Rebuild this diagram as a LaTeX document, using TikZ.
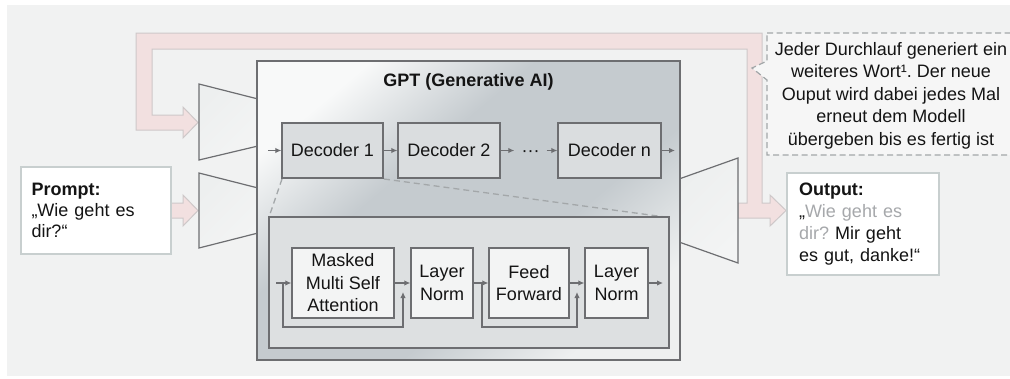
\documentclass[tikz,border=0pt]{standalone}
\usepackage{fontspec}
\setmainfont{Liberation Sans}
\usetikzlibrary{arrows.meta,calc}
\definecolor{bgc}{HTML}{F1F2F2}
\definecolor{pinkfill}{HTML}{F2E0E0}
\definecolor{pinkline}{HTML}{CEC8C9}
\definecolor{frame}{HTML}{6D6E71}
\definecolor{decfill}{HTML}{DADDDF}
\definecolor{innerfill}{HTML}{DDE0E1}
\definecolor{blockfill}{HTML}{F3F4F4}
\definecolor{boxline}{HTML}{C8CFCF}
\definecolor{txt}{HTML}{141414}
\definecolor{greytxt}{HTML}{A6A8AB}
\definecolor{dashc}{HTML}{A3A7A9}
\definecolor{calloutfill}{HTML}{F6F6F6}
\definecolor{shlight}{HTML}{F8F9F9}
\definecolor{shmid}{HTML}{C5CBCF}
\definecolor{shend}{HTML}{EEF0F0}
\definecolor{mtlight}{HTML}{EDEFEF}
\definecolor{mtmid}{HTML}{B9BFC3}
\definecolor{mtend}{HTML}{F3F4F4}
% brushed gradient of the model frame: light corner, grey band, light corner
\pgfdeclarehorizontalshading{gptshade}{100bp}{color(0bp)=(shlight);
  color(25bp)=(shlight); color(40bp)=(shmid); color(60bp)=(shmid);
  color(75bp)=(shend); color(100bp)=(shend)}
\frenchspacing
\begin{document}
\begin{tikzpicture}[x=1pt,y=-1pt,
  font=\fontsize{18}{22.5}\selectfont, text=txt,
  frameline/.style={draw=frame, line width=1.3pt},
  decbox/.style={frameline, fill=decfill, minimum height=55pt, inner sep=0pt},
  blockbox/.style={frameline, fill=blockfill, align=center, inner sep=0pt, minimum height=70pt},
  flow/.style={draw=frame, line width=1.2pt, -{Latex[length=6pt,width=5.5pt]}},
  pinkarrow/.style={fill=pinkfill, draw=pinkline, line width=1pt, line join=miter},
  metal/.style={draw=frame, line width=1.2pt, shading=axis, top color=mtlight,
    middle color=mtmid, bottom color=mtend, shading angle=45},
  textbox/.style={fill=white, draw=boxline, line width=1.3pt, align=left,
    inner ysep=0pt},
  zoomline/.style={draw=dashc, line width=1.3pt, dash pattern=on 6pt off 4pt}
]
\useasboundingbox (0,0) rectangle (1010,378);
\clip (0,0) rectangle (1010,378);
\fill[white] (0,0) rectangle (1010,378);
\fill[bgc] (7,5) rectangle (1012,376);

% feedback loop and output arrow (one outlined band)
\path[pinkarrow] (738,203) -- (747,203) -- (747,49) -- (152,49) -- (152,115)
  -- (183,115) -- (183,107) -- (198,122.5) -- (183,138) -- (183,130)
  -- (136,130) -- (136,33) -- (762,33) -- (762,203) -- (770,203)
  -- (770,195) -- (786,210.5) -- (770,226) -- (770,218) -- (738,218) -- cycle;
% prompt arrow
\path[pinkarrow] (171,203) -- (183,203) -- (183,195) -- (198,210.5)
  -- (183,226) -- (183,218) -- (171,218) -- cycle;

% callout with pointer
\path[fill=calloutfill, draw=dashc, line width=1.2pt, dash pattern=on 6pt off 3.5pt]
  (767,33) -- (1016,33) -- (1016,155) -- (767,155) -- (767,80) -- (752,68)
  -- (767,61) -- cycle;
\node[align=center, text=txt] (callout) at (891,95.5)
  {Jeder Durchlauf generiert ein\\weiteres Wort¹. Der neue\\Ouput wird dabei jedes Mal\\erneut dem Modell\\übergeben bis es fertig ist};

% funnels in and out of the model
\path[metal] (199,84) -- (258,99) -- (258,146) -- (199,160) -- cycle;
\path[metal] (199,173) -- (258,188) -- (258,233) -- (199,248) -- cycle;
\path[metal] (679,179) -- (738,158) -- (738,263) -- (679,242) -- cycle;

% GPT model frame
\node[frameline, shading=gptshade, shading angle=-50, minimum width=423pt,
  minimum height=299pt, inner sep=0pt] (gpt) at (468.5,210.5) {};
\node[anchor=base, font=\fontsize{18}{22.5}\selectfont\bfseries] (gpttitle)
  at (468.5,86) {GPT (Generative AI)};

% zoom lines from the first decoder to its detail
\coordinate (dzl) at (282,179);
\coordinate (dzr) at (384,179);
\draw[zoomline] (dzl) -- (269,217);
\draw[zoomline] (dzr) -- (665,217);

% decoder chain
\node[decbox, minimum width=101pt] (dec1) at (332.5,150.5) {Decoder 1};
\node[decbox, minimum width=102pt] (dec2) at (449,150.5) {Decoder 2};
\node[decbox, minimum width=103pt] (decn) at (609.5,150.5) {Decoder n};
\node[inner xsep=7pt, inner ysep=0pt] (dots) at (530.5,154) {···};
\coordinate (din) at (268,150.5);
\coordinate (dout) at (675,150.5);
\draw[flow] (din) -- (dec1.west);
\draw[flow] (dec1.east) -- (dec2.west);
\draw[flow] (dec2.east) -- (dec2.east -| dots.west);
\draw[flow] (decn.west -| dots.east) -- (decn.west);
\draw[flow] (decn.east) -- (dout);

% decoder detail
\node[frameline, fill=innerfill, minimum width=400pt, minimum height=131pt,
  inner sep=0pt] (inner) at (469,282.5) {};
\node[blockbox, minimum width=102pt] (mmsa) at (343,283) {Masked\\Multi Self\\Attention};
\node[blockbox, minimum width=62pt] (ln1) at (442,283) {Layer\\Norm};
\node[blockbox, minimum width=80pt] (ff) at (529,283) {Feed\\Forward};
\node[blockbox, minimum width=63pt] (ln2) at (616.5,283) {Layer\\Norm};
\coordinate (iin) at (276,283);
\coordinate (iout) at (663,283);
\coordinate (r1s) at (283,283);
\coordinate (r1e) at (403,292);
\coordinate (r2s) at (482,283);
\coordinate (r2e) at (577,292);
\draw[flow] (iin) -- (mmsa.west);
\draw[flow] (mmsa.east) -- (ln1.west);
\draw[flow] (ln1.east) -- (ff.west);
\draw[flow] (ff.east) -- (ln2.west);
\draw[flow] (ln2.east) -- (iout);
\draw[flow] (r1s) -- ++(0,44) -| (r1e);
\draw[flow] (r2s) -- ++(0,44) -| (r2e);

% prompt and output
\node[textbox, minimum width=150pt, minimum height=87pt, text width=129pt,
  inner xsep=10.5pt, font=\fontsize{18}{21}\selectfont] (prompt) at (96,210.5)
  {\textbf{Prompt:}\\„Wie geht es\\dir?“};
\node[textbox, minimum width=152pt, minimum height=102pt, text width=128pt,
  inner xsep=12pt, font=\fontsize{18}{22}\selectfont] (output) at (863,224)
  {\textbf{Output:}\\„\textcolor{greytxt}{Wie geht es}\\\textcolor{greytxt}{dir?} Mir geht\\es gut, danke!“};
\end{tikzpicture}
\end{document}
